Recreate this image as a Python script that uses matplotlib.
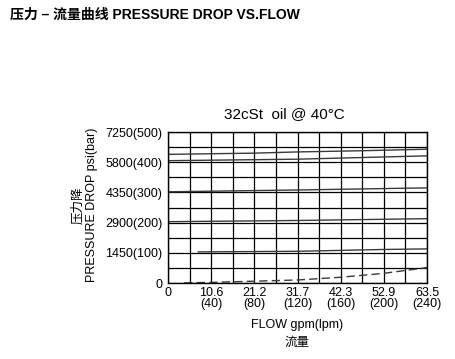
import numpy as np
import matplotlib
matplotlib.use("Agg")
import matplotlib.pyplot as plt

plt.rcParams['font.family'] = ['Liberation Sans', 'Noto Sans CJK SC', 'DejaVu Sans']

# flow in lpm, pressure in bar
flow_a = [0, 80, 120, 180, 240]
pres_a = [426, 430, 434, 438, 443]
flow_b = [0, 120, 240]
pres_b = [405, 410, 421]
flow_c = [0, 120, 240]
pres_c = [302, 308, 315]
flow_d = [0, 120, 240]
pres_d = [203, 207, 213]
flow_e = [28, 120, 200, 240]
pres_e = [103, 105, 111, 113]
flow_dash = [15, 40, 80, 120, 160, 200, 240]
pres_dash = [0.5, 2, 6, 10, 19, 32, 51]

xticks = [0, 40, 80, 120, 160, 200, 240]
xlabels = ["0", "10.6\n(40)", "21.2\n(80)", "31.7\n(120)", "42.3\n(160)", "52.9\n(200)", "63.5\n(240)"]
yticks = [0, 100, 200, 300, 400, 500]
ylabels = ["0", "1450(100)", "2900(200)", "4350(300)", "5800(400)", "7250(500)"]

W, H = 455, 359
fig = plt.figure(figsize=(W / 100, H / 100), dpi=100)
ax = fig.add_axes([168 / W, 1 - 283 / H, 259 / W, 151 / H])

line_kw = dict(color='#3a3a3a', lw=1.0)
for fx, py in [(flow_a, pres_a), (flow_b, pres_b), (flow_c, pres_c),
               (flow_d, pres_d), (flow_e, pres_e)]:
    ax.plot(fx, py, **line_kw)
ax.plot(flow_dash, pres_dash, color='#3a3a3a', lw=1.0, dashes=(6, 3))

ax.set_xlim(0, 240)
ax.set_ylim(0, 500)
ax.set_xticks(xticks)
ax.set_xticklabels(xlabels, fontsize=9, linespacing=0.9, va='top')
ax.set_xticks(np.arange(0, 241, 20), minor=True)
ax.set_yticks(yticks)
ax.set_yticklabels(ylabels, fontsize=9)
ax.set_yticks(np.arange(0, 501, 50), minor=True)
ax.tick_params(which='both', length=0)
ax.tick_params(axis='x', pad=3)
ax.tick_params(axis='y', pad=4)
ax.grid(which='both', color='black', lw=0.9)
ax.set_axisbelow(True)
for sp in ax.spines.values():
    sp.set_linewidth(1.0)

fig.text(10 / W, 1 - 15 / H, "压力 – 流量曲线 PRESSURE DROP VS.FLOW",
         fontsize=10, fontweight='bold', ha='left', va='center')
fig.text(284.5 / W, 1 - 114.5 / H, "32cSt  oil @ 40°C", fontsize=11,
         ha='center', va='center')
fig.text(78 / W, 1 - 205 / H, "压力降", fontsize=9, rotation=90,
         ha='center', va='center')
fig.text(92 / W, 1 - 205 / H, "PRESSURE DROP psi(bar)", fontsize=9,
         rotation=90, ha='center', va='center')
fig.text(297 / W, 1 - 325 / H, "FLOW gpm(lpm)", fontsize=9,
         ha='center', va='center')
fig.text(297 / W, 1 - 343 / H, "流量", fontsize=9, ha='center', va='center')

fig.savefig("out.png", dpi=100)
